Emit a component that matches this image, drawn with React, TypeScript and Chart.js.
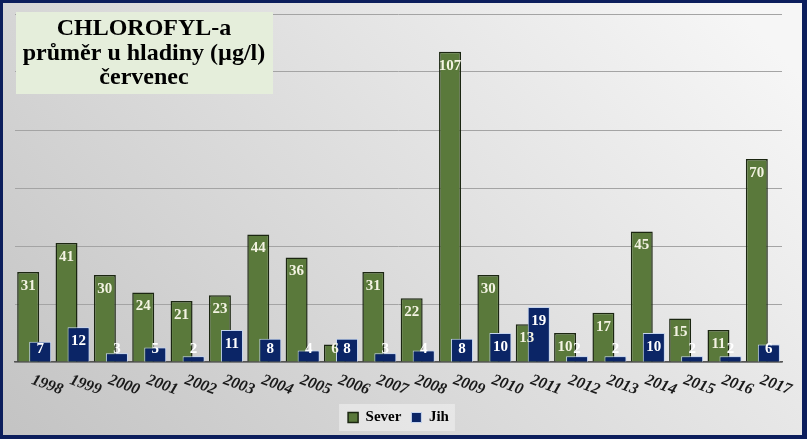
import React, { useEffect, useRef } from "react";
import { Chart, registerables } from "chart.js";

Chart.register(...registerables);

const years = ["1998","1999","2000","2001","2002","2003","2004","2005","2006","2007","2008","2009","2010","2011","2012","2013","2014","2015","2016","2017"];
const sever = [31,41,30,24,21,23,44,36,6,31,22,107,30,13,10,17,45,15,11,70];
const jih = [7,12,3,5,2,11,8,4,8,3,4,8,10,19,2,2,10,2,2,6];
const titleLines = ["CHLOROFYL-a", "průměr u hladiny (µg/l)", "červenec"];
const seriesNames = ["Sever", "Jih"];

const W = 807;
const H = 439;

const bgPlugin = {
  id: "bg",
  beforeDraw(chart: any) {
    const ctx = chart.ctx;
    ctx.save();
    const g = ctx.createLinearGradient(0, H, W * 0.75, -H * 0.3);
    g.addColorStop(0, "#c3c3c3");
    g.addColorStop(1, "#f6f6f6");
    ctx.fillStyle = g;
    ctx.fillRect(0, 0, W, H);
    const lg = chart.legend;
    if (lg && lg.legendHitBoxes && lg.legendHitBoxes.length) {
      const hb = lg.legendHitBoxes;
      const x0 = Math.min(...hb.map((b: any) => b.left)) - 9;
      const x1 = Math.max(...hb.map((b: any) => b.left + b.width)) + 6;
      const y0 = Math.min(...hb.map((b: any) => b.top)) - 6;
      const y1 = Math.max(...hb.map((b: any) => b.top + b.height)) + 6;
      ctx.fillStyle = "rgba(240,240,240,0.6)";
      ctx.fillRect(x0, y0, x1 - x0, y1 - y0);
    }
    ctx.restore();
  },
};

const overlayPlugin = {
  id: "overlay",
  afterDatasetsDraw(chart: any) {
    const metaJ = chart.getDatasetMeta(1);
    metaJ.controller.draw();
    const ctx = chart.ctx;
    const base = chart.scales.y.getPixelForValue(0);
    ctx.save();
    ctx.font = "bold 15px 'Liberation Serif'";
    ctx.textAlign = "center";
    ctx.textBaseline = "middle";
    [0, 1].forEach((di) => {
      const meta = chart.getDatasetMeta(di);
      const vals = chart.data.datasets[di].data;
      ctx.fillStyle = di === 0 ? "#f3f3e2" : "#ffffff";
      meta.data.forEach((bar: any, i: number) => {
        const y = Math.min(bar.y + 14, base - 13);
        ctx.fillText(String(vals[i]), bar.x, y);
      });
    });
    ctx.restore();
  },
  afterDraw(chart: any) {
    const ctx = chart.ctx;
    const xs = chart.scales.x;
    ctx.save();
    ctx.font = "italic bold 16px 'Liberation Serif'";
    ctx.fillStyle = "#1a1a1a";
    ctx.textAlign = "center";
    ctx.textBaseline = "middle";
    years.forEach((yr, i) => {
      const cx = xs.getPixelForValue(i);
      ctx.save();
      ctx.translate(cx + 13, 385);
      ctx.rotate((20 * Math.PI) / 180);
      ctx.fillText(yr, 0, 0);
      ctx.restore();
    });
    ctx.fillStyle = "#e5eedb";
    ctx.fillRect(16, 12, 257, 82);
    ctx.font = "bold 24px 'Liberation Serif'";
    ctx.fillStyle = "#000000";
    ctx.textBaseline = "alphabetic";
    ctx.fillText(titleLines[0], 144, 35);
    ctx.fillText(titleLines[1], 144, 60);
    ctx.fillText(titleLines[2], 144, 84);
    ctx.fillStyle = "#0c1e5c";
    ctx.fillRect(0, 0, W, 3);
    ctx.fillRect(0, 0, 3, H);
    ctx.fillRect(W - 5, 0, 5, H);
    ctx.fillRect(0, H - 4, W, 4);
    ctx.restore();
  },
};

export default function App() {
  const ref = useRef<HTMLCanvasElement | null>(null);
  useEffect(() => {
    document.body.style.margin = "0";
    const canvas = ref.current;
    if (!canvas) return;
    const chart = new Chart(canvas, {
      type: "bar",
      data: {
        labels: years,
        datasets: [
          {
            label: seriesNames[0],
            data: sever,
            backgroundColor: "#5a793b",
            borderColor: "#1b2611",
            borderWidth: 1.5,
            categoryPercentage: 0.626,
            barPercentage: 1.83,
          },
          {
            label: seriesNames[1],
            data: jih,
            backgroundColor: "#0b2566",
            borderColor: "#c4d4ee",
            borderWidth: 1,
            categoryPercentage: 0.626,
            barPercentage: 1.83,
          },
        ],
      },
      options: {
        responsive: false,
        animation: false,
        layout: { padding: { left: 15, right: 25, top: 14, bottom: 4 } },
        scales: {
          x: {
            ticks: { display: false },
            grid: { display: false, drawTicks: false },
            border: { display: true, color: "#555555", width: 1.5 },
            afterFit(scale: any) {
              scale.height = 38;
            },
          },
          y: {
            min: 0,
            max: 120,
            ticks: { display: false, stepSize: 20 },
            grid: { color: "#a4a4a4", lineWidth: 1, drawTicks: false },
            border: { display: false },
          },
        },
        plugins: {
          tooltip: { enabled: false },
          legend: {
            position: "bottom",
            labels: {
              boxWidth: 10,
              boxHeight: 10,
              padding: 10,
              color: "#000000",
              font: { family: "'Liberation Serif'", size: 15, weight: "bold" },
            },
          },
        },
      },
      plugins: [bgPlugin, overlayPlugin],
    });
    return () => chart.destroy();
  }, []);
  return (
    <div style={{ width: W, height: H }}>
      <canvas ref={ref} width={W} height={H} style={{ display: "block" }} />
    </div>
  );
}
